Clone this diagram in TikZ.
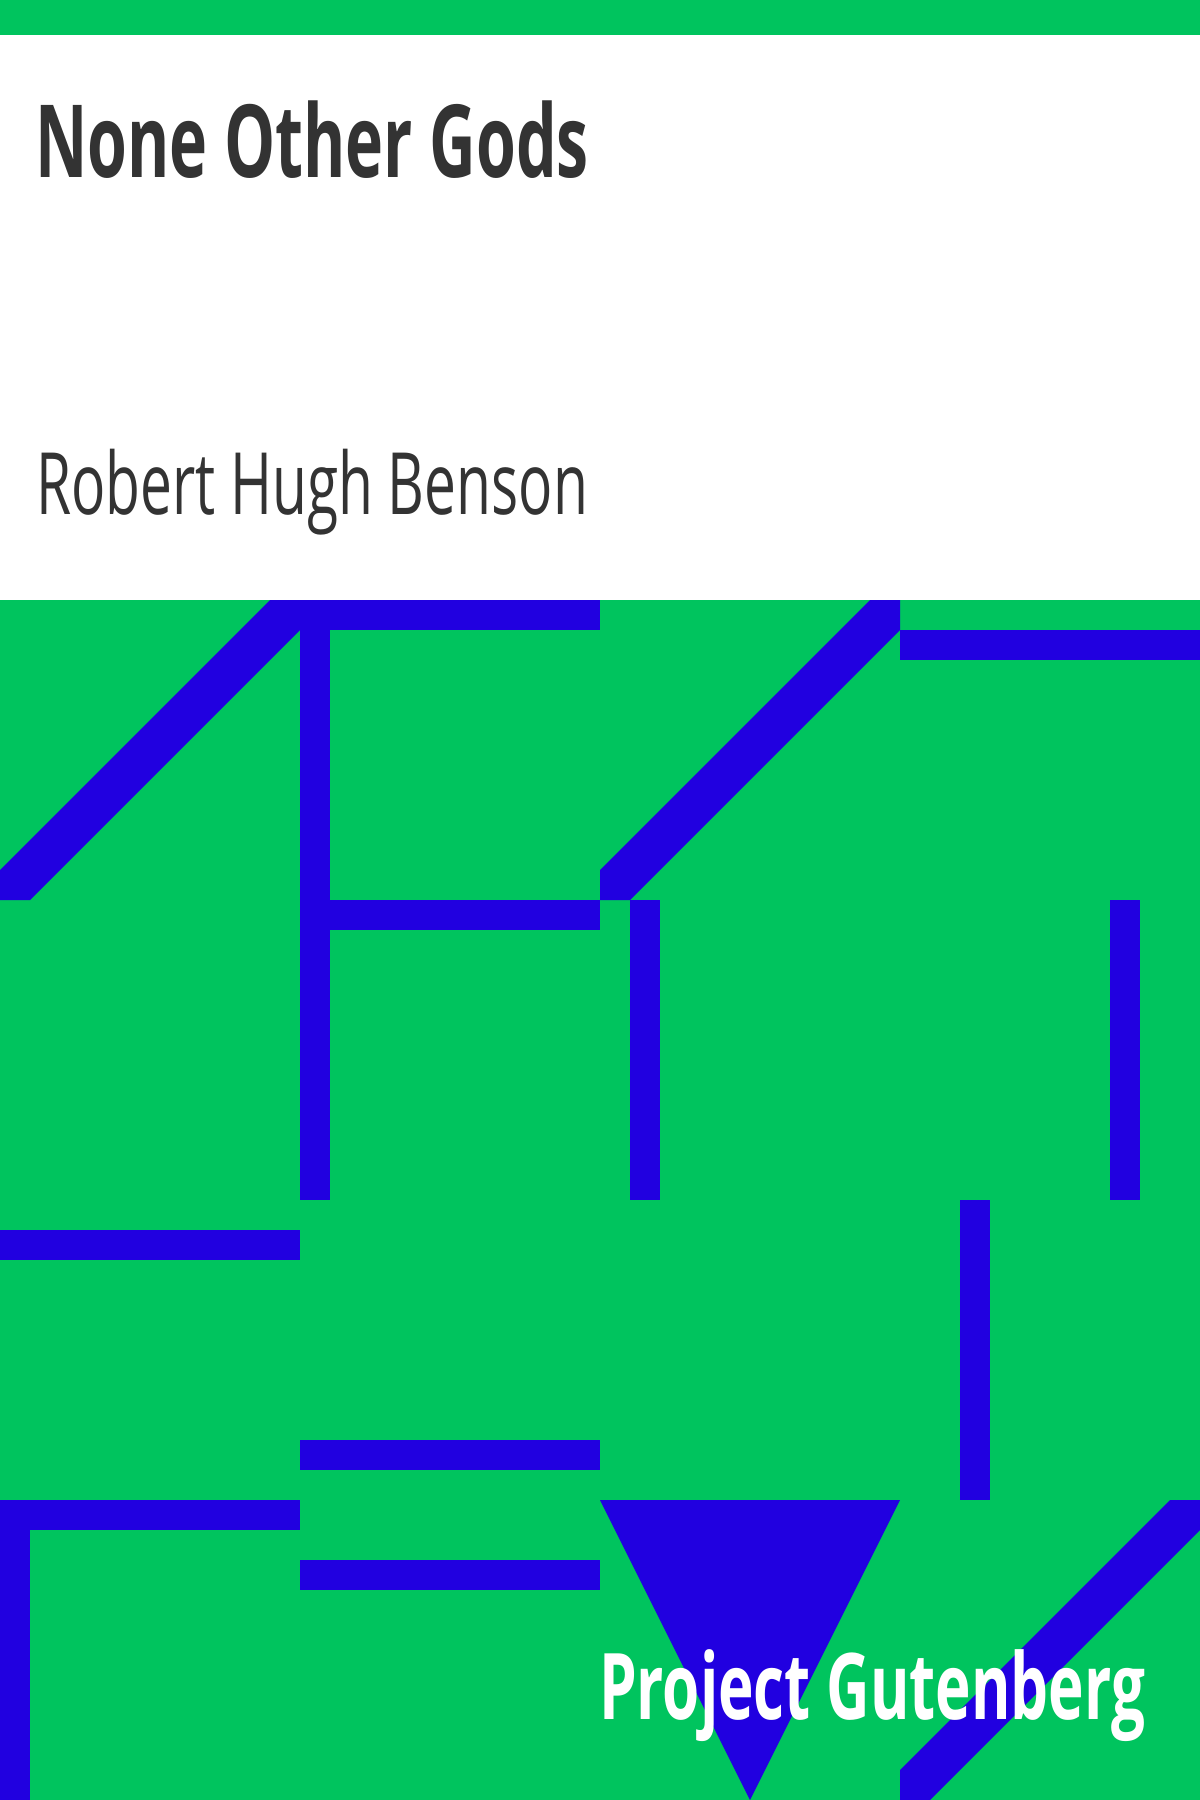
\documentclass[tikz,border=0pt]{standalone}
\usepackage{fontspec}
\usepackage{graphicx}
\setmainfont{Open Sans}
\usetikzlibrary{positioning}
\definecolor{pggreen}{RGB}{0,196,94}
\definecolor{pgblue}{RGB}{33,0,224}
\definecolor{pgtext}{RGB}{51,51,51}

\begin{document}
\begin{tikzpicture}
                [x=1pt, y=-1pt,
                 bar/.style={fill=pgblue},
                 every node/.style={inner sep=0pt, outer sep=0pt}]
                \useasboundingbox (0,0) rectangle (1200,1800);
                \fill[white] (0,0) rectangle (1200,600);
                \fill[pggreen] (0,0) rectangle (1200,35);
                \fill[pggreen] (0,600) rectangle (1200,1800);
                % top row
                \fill[bar] (270,600) -- (300,600) -- (300,630) -- (30,900) -- (0,900) -- (0,870) -- cycle;
                \fill[bar] (300,600) rectangle (600,630);
                \fill[bar] (300,630) rectangle (330,1200);
                \fill[bar] (330,900) rectangle (600,930);
                \fill[bar] (870,600) -- (900,600) -- (900,630) -- (630,900) -- (600,900) -- (600,870) -- cycle;
                \fill[bar] (900,630) rectangle (1200,660);
                % middle
                \fill[bar] (630,900) rectangle (660,1200);
                \fill[bar] (1110,900) rectangle (1140,1200);
                \fill[bar] (0,1230) rectangle (300,1260);
                \fill[bar] (960,1200) rectangle (990,1500);
                \fill[bar] (300,1440) rectangle (600,1470);
                % bottom row
                \fill[bar] (0,1500) rectangle (300,1530);
                \fill[bar] (0,1530) rectangle (30,1800);
                \fill[bar] (300,1560) rectangle (600,1590);
                \fill[bar] (600,1500) -- (900,1500) -- (750,1800) -- cycle;
                \fill[bar] (1170,1500) -- (1200,1500) -- (1200,1530) -- (930,1800) -- (900,1800) -- (900,1770) -- cycle;
                % texts
                \node (title) [anchor=base west, text=pgtext, font=\bfseries\fontsize{101}{101}\selectfont]
                    at (35,177) {\resizebox{554pt}{\height}{None Other Gods}};
                \node (author) [anchor=base west, text=pgtext, font=\fontsize{86}{86}\selectfont]
                    at (36,514) {\resizebox{552pt}{\height}{Robert Hugh Benson}};
                \node (pg) [anchor=base east, text=white, font=\bfseries\fontsize{92}{92}\selectfont]
                    at (1145,1719) {\resizebox{546pt}{\height}{Project Gutenberg}};
            \end{tikzpicture}
\end{document}
